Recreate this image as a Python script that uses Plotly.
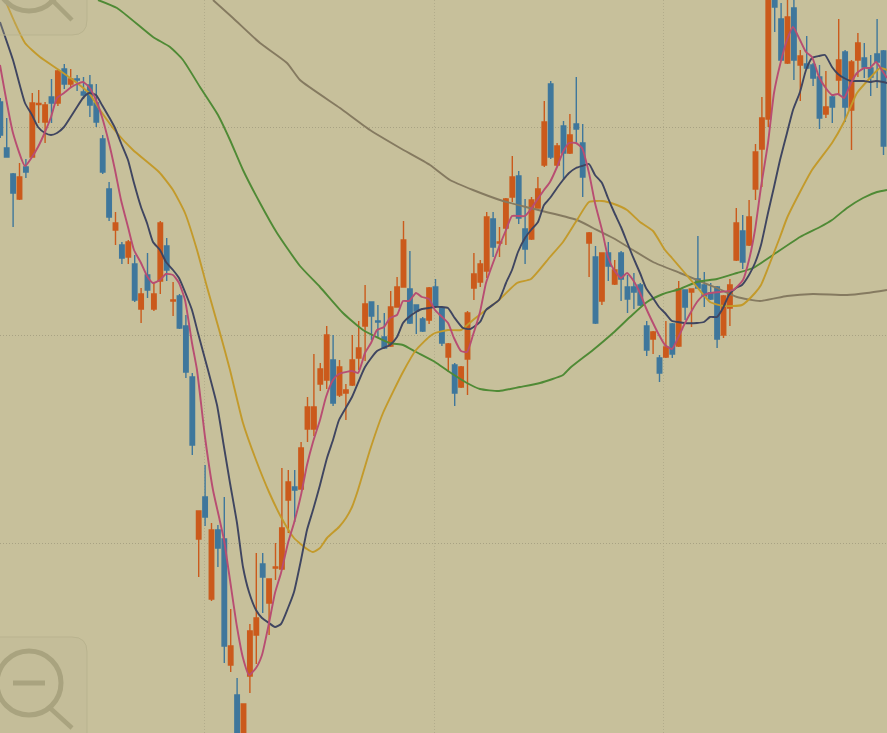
import plotly.graph_objects as go

opens = [102,148,174,199,167,157,104.5,122,97,103,69,84,79,92,85,103,139,189,230,245,257,264,309,275,309,281,246,301,296,326,
 377,539,497,599,530,539,665,695,760,676,635,564,603,568,569,500,487,489,429,429,384,380,360,395,393,385,358,326,302,321,
 337,346,307,287,289,305,319,320,287,308,357,365,387,359,288,282,271,219,243,228,197,176,229,239,208,165,84,165,126,153,
 124,143,243,257,301,253,284,253,287,287,285,326,339,358,357,324,346,290,292,279,285,293,287,335,308,260,231,245,189,149,
 119,-8,19,63,8,65,64,65,77,114,97,80,52,110,60,58,68,54,51]
closes = [135,157,193,177,172,103,103.5,105,103,71,84,79,80,95,105,122,172,217,223,258,242,300,294,290,294,223,270,300,328,372,
 445,511,517,530,548,646,646,760,704,631,618,577,579,567,528,482,490,448,407,407,369,335,403,367,390,360,348,304,316,322,
 348,307,287,240,323,311,331,288,306,343,344,393,367,313,274,264,217,247,242,199,177,218,249,200,189,122,157,146,153,135,
 129,177,233,323,253,266,270,279,299,292,305,350,332,373,347,354,289,307,289,288,296,299,339,296,285,223,262,217,152,118,
 -15,7,60,17,60,56,68,78,118,107,107,60,107,62,43,67,77,62,146]
highs = [98,118,173,163,159,93,90,102,79,69,64,69,75,77,75,84,135,182,212,242,240,255,288,253,283,221,238,282,294,315,
 373,511,465,523,525,497,609,678,704,624,553,553,579,543,468,470,470,442,397,354,363,326,335,360,384,335,321,285,302,305,
 313,291,277,221,251,305,317,287,279,306,343,363,366,311,253,260,212,212,227,198,156,171,199,197,177,101,81,143,121,114,
 77,124,232,246,253,242,260,251,275,273,283,321,331,355,321,323,281,290,289,236,272,283,286,295,279,208,215,200,144,97,
 -15,-10,3,-5,-2,50,36,63,65,71,95,19,50,60,33,43,55,19,50]
lows = [138,157,227,200,178,157,123,143,123,106,89,87,91,99,117,127,174,221,245,264,264,302,323,298,311,294,281,316,329,378,
 455,577,526,601,567,663,672,770,770,693,664,613,635,580,570,533,522,489,442,436,391,389,406,397,420,386,370,361,340,337,
 349,347,307,287,324,334,332,324,308,346,372,406,388,395,300,287,278,257,257,245,202,224,264,240,208,167,159,166,180,154,
 143,197,277,324,305,281,285,301,313,309,306,356,354,382,358,358,347,320,327,289,307,300,348,338,326,261,269,246,200,187,
 127,32,61,64,80,101,69,86,129,118,123,95,122,150,77,78,96,88,155]
bar_x = [0.3 + 6.4 * i for i in range(len(opens))]

fast_x = [0,13,25,32,38,45,51,57,64,70,77,83,89,96,102,109,115,121,128,134,141,147,153,160,166,173,179,185,192,197,205,213,219,224,230,237,243,249,256,262,269,275,281,288,294,301,307,313,320,326,333,339,352,358,365,371,377,384,390,397,403,409,416,422,429,435,441,448,454,461,467,473,480,486,493,499,506,512,518,525,531,537,544,550,557,563,569,576,582,589,595,602,608,614,621,627,633,640,646,653,659,665,672,678,684,691,697,704,710,733,743,749,755,761,768,774,780,787,793,800,806,812,819,825,832,838,844,851,857,864,870,876,883,887]
fast_y = [65,133,166,157,147,132,117,98,93,88,84,82,87,100,117,143,170,200,227,250,263,276,283,280,274,275,283,300,343,370,437,490,517,540,580,627,658,675,668,655,623,593,573,543,523,495,465,442,420,397,380,374,371,373,353,343,330,327,318,315,301,301,293,297,299,310,316,323,338,351,352,335,312,283,263,247,230,216,216,216,209,200,190,182,167,152,143,143,148,173,203,230,257,270,278,273,280,293,308,323,335,345,349,338,325,312,302,295,293,290,280,260,230,187,143,93,65,40,27,40,52,57,77,87,95,94,98,83,73,68,68,62,72,78]

mid_x = [0,13,25,32,38,45,51,57,64,70,77,83,89,96,102,109,115,121,128,134,141,147,153,160,166,173,179,185,192,198,208,217,224,230,237,243,249,256,262,269,275,281,288,294,301,307,313,320,327,333,339,352,365,377,390,397,403,409,416,422,429,435,441,448,454,463,470,480,486,499,506,512,518,525,531,538,544,550,557,563,569,576,582,589,595,602,608,614,621,627,633,640,646,653,659,665,672,678,684,697,704,710,717,723,729,736,742,749,755,761,768,774,780,787,793,800,806,812,819,825,832,838,844,851,857,864,870,876,883,887]
mid_y = [22,60,103,115,127,133,135,133,127,118,107,98,93,95,105,117,128,143,160,183,207,223,242,250,262,270,278,292,310,333,370,405,447,483,523,567,592,610,618,623,627,624,608,592,560,530,510,485,458,440,420,397,367,351,345,337,323,317,312,309,308,307,307,308,317,328,329,322,310,300,283,270,252,238,230,222,205,198,188,180,173,168,166,164,175,183,198,212,227,242,257,273,288,298,307,313,321,322,323,323,322,317,317,308,295,288,285,275,263,245,213,187,160,133,110,92,70,58,56,55,67,74,78,81,81,81,82,81,82,83]

ma30_x = [5,15,25,40,59,77,89,100,117,133,159,173,185,197,207,220,230,243,256,269,281,294,307,313,320,327,339,346,352,358,370,383,403,416,429,435,448,461,473,486,499,517,531,550,563,577,589,602,614,627,640,653,665,672,684,697,710,723,742,755,761,768,780,787,800,812,832,844,857,870,880,887]
ma30_y = [0,23,43,57,70,83,93,110,133,150,172,190,213,250,287,333,370,423,460,492,517,538,549,552,548,538,527,518,507,490,450,413,372,350,337,333,330,330,320,310,300,283,279,257,242,220,202,201,204,210,222,231,250,258,272,287,302,306,305,293,285,268,237,218,192,170,143,122,93,78,68,70]

ma60_x = [98,117,153,170,183,200,218,230,243,260,277,300,320,343,363,390,403,416,435,448,467,480,499,520,540,563,570,593,613,630,647,663,680,697,717,737,753,773,800,820,832,847,863,877,887]
ma60_y = [0,8,37,47,60,87,115,140,170,203,233,266,287,313,330,343,345,352,362,371,383,389,391,387,383,375,368,350,333,317,302,294,289,282,279,273,268,255,237,227,220,208,198,192,190]

ma120_x = [213,233,260,287,300,340,370,400,430,450,473,503,530,577,593,613,633,653,680,697,717,737,760,787,813,847,867,887]
ma120_y = [0,18,43,63,80,108,130,148,165,180,190,201,208,220,228,238,250,262,273,280,288,297,301,296,294,295,293,290]

grid_x = [204.3, 434.3, 663.7]
grid_y = [127, 335, 543]

ORANGE, BLUE = "#cb5a1c", "#3f779c"
fig = go.Figure()
fig.add_trace(go.Candlestick(
    x=bar_x, open=opens, high=highs, low=lows, close=closes,
    decreasing=dict(line=dict(color=ORANGE, width=1.4), fillcolor=ORANGE),
    increasing=dict(line=dict(color=BLUE, width=1.4), fillcolor=BLUE),
    whiskerwidth=0, showlegend=False, hoverinfo="skip"))
for xs, ys, col in [(ma120_x, ma120_y, "#857a60"), (ma60_x, ma60_y, "#4f8a35"),
                    (ma30_x, ma30_y, "#c39a2b"), (mid_x, mid_y, "#3f4560"),
                    (fast_x, fast_y, "#b84d72")]:
    fig.add_trace(go.Scatter(x=xs, y=ys, mode="lines", showlegend=False, hoverinfo="skip",
                             line=dict(color=col, width=1.9, shape="spline", smoothing=0.5)))

ICON = "#a9a37f"
EDGE = "#b9b38f"
FILL = "rgba(190,184,146,0.28)"
shapes = [
    dict(type="path", path="M -5 35 L 72 35 Q 87 35 87 20 L 87 -5 L -5 -5 Z", fillcolor=FILL, line=dict(color=EDGE, width=1)),
    dict(type="path", path="M -5 637 L 72 637 Q 87 637 87 652 L 87 740 L -5 740 Z", fillcolor=FILL, line=dict(color=EDGE, width=1)),
    dict(type="circle", x0=-3, x1=61, y0=-52, y1=11, line=dict(color=ICON, width=5)),
    dict(type="line", x0=50, y0=-2, x1=72, y1=20, line=dict(color=ICON, width=4.5)),
    dict(type="circle", x0=-3, x1=61, y0=651, y1=715, line=dict(color=ICON, width=5)),
    dict(type="line", x0=50, y0=708, x1=72, y1=728, line=dict(color=ICON, width=4.5)),
    dict(type="line", x0=13, y0=683, x1=45, y1=683, line=dict(color=ICON, width=5)),
]
for s in shapes:
    s.update(xref="x", yref="y", layer="above")

GRID = "#b2ac8b"
fig.update_layout(
    width=887, height=733, margin=dict(l=0, r=0, t=0, b=0),
    paper_bgcolor="#c7c09b", plot_bgcolor="#c7c09b", shapes=shapes, boxgap=0,
    xaxis=dict(range=[0, 887], rangeslider=dict(visible=False), tickvals=grid_x, showticklabels=False,
               ticks="", showgrid=True, gridcolor=GRID, griddash="1px,2px", gridwidth=1, zeroline=False, showline=False),
    yaxis=dict(range=[733, 0], tickvals=grid_y, showticklabels=False, ticks="",
               showgrid=True, gridcolor="#a8a283", griddash="1px,2px", gridwidth=1, zeroline=False, showline=False),
)
fig.write_html("out.html", post_script="document.body.style.margin='0';document.body.style.overflow='hidden';",
               config=dict(displayModeBar=False))
